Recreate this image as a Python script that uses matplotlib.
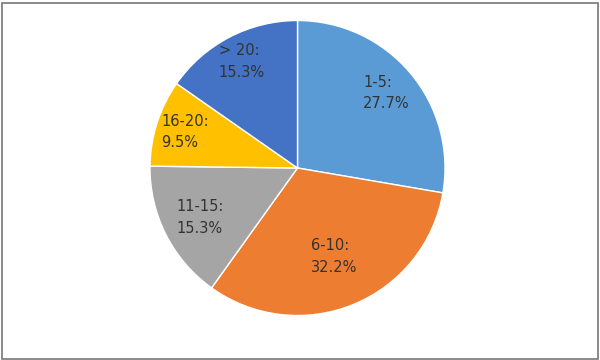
import numpy as np
import matplotlib
matplotlib.use("Agg")
import matplotlib.pyplot as plt
from matplotlib.patches import Rectangle

categories = ["1-5", "6-10", "11-15", "16-20", "> 20"]
values = [27.7, 32.2, 15.3, 9.5, 15.3]
colors = ["#5B9BD5", "#ED7D31", "#A5A5A5", "#FFC000", "#4472C4"]
label_radius = [0.79, 0.65, 0.74, 0.80, 0.815]

fig = plt.figure(figsize=(6, 3.6), dpi=100)
cx, cy, r = 297.5, 168, 147.5
ax = fig.add_axes([(cx - r) / 600, (360 - cy - r) / 360, 2 * r / 600, 2 * r / 360])

labels = [f"{c}:\n{v:.1f}%" for c, v in zip(categories, values)]
wedges, texts = ax.pie(values, colors=colors, startangle=90, counterclock=False,
                       labels=labels, labeldistance=0.75,
                       wedgeprops=dict(edgecolor="white", linewidth=1),
                       textprops=dict(fontsize=10.5, color="#333333", family="DejaVu Sans",
                                      linespacing=1.55))
for w, t, lr in zip(wedges, texts, label_radius):
    ang = np.deg2rad((w.theta1 + w.theta2) / 2)
    t.set_position((lr * np.cos(ang), lr * np.sin(ang)))
    t.set_ha("center")
    t.set_va("center")
    t.set_multialignment("left")
ax.set_xlim(-1, 1)
ax.set_ylim(-1, 1)
ax.set_aspect("auto")

fig.patches.append(Rectangle((1.5 / 600, 1.5 / 360), 596 / 600, 356 / 360,
                             transform=fig.transFigure, fill=False,
                             edgecolor="#777777", linewidth=1.2))
fig.savefig("out.png", dpi=100)
